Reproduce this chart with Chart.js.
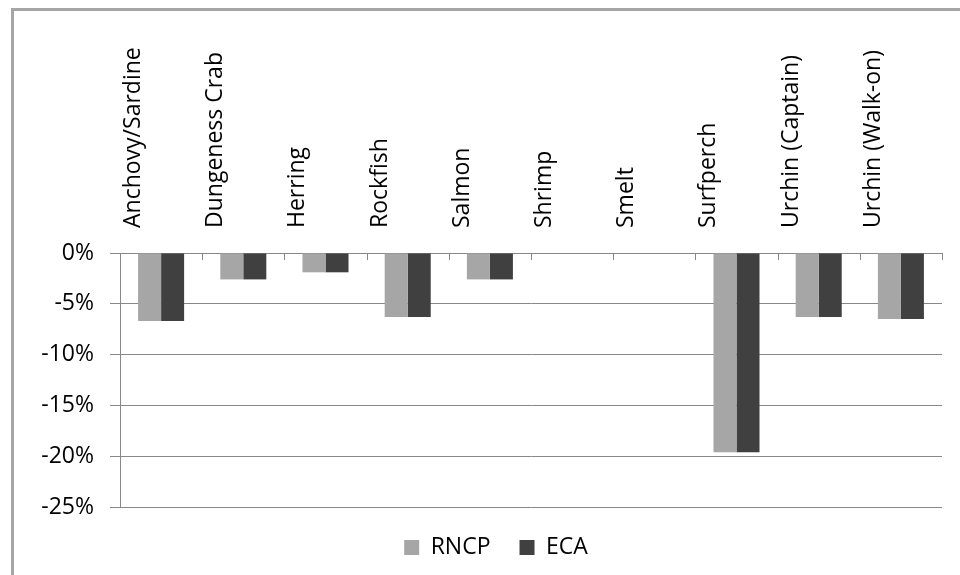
<!DOCTYPE html>
<html>
<head>
<meta charset="utf-8">
<script src="https://cdn.jsdelivr.net/npm/chart.js@4"></script>
<style>
  html, body { margin: 0; padding: 0; background: #fff; }
  #wrap { position: relative; width: 960px; height: 575px; overflow: hidden; }
  #frame {
    position: absolute; left: 11px; top: 8px; width: 1000px; height: 700px;
    border-left: 3px solid #a6a6a6; border-top: 3px solid #a6a6a6;
  }
  canvas { position: absolute; left: 0; top: 0; }
</style>
</head>
<body>
<div id="wrap">
  <div id="frame"></div>
  <canvas id="chart" width="960" height="575"></canvas>
</div>
<script>
const categories = [
  'Anchovy/Sardine', 'Dungeness Crab', 'Herring', 'Rockfish', 'Salmon',
  'Shrimp', 'Smelt', 'Surfperch', 'Urchin (Captain)', 'Urchin (Walk-on)',
];
const rncpValues = [-6.7, -2.6, -1.9, -6.3, -2.6, 0, 0, -19.6, -6.3, -6.5];
const ecaValues = [-6.7, -2.6, -1.9, -6.3, -2.6, 0, 0, -19.6, -6.3, -6.5];
const yTicks = [0, -5, -10, -15, -20, -25];

const FONT = 'Open Sans';
const FONT_SIZE = 23;
const gridColor = '#888888';

// small tick marks under the top axis, between categories
const innerTicks = {
  id: 'innerTicks',
  afterLayout(chart) {
    // legend sits a bit right of the page centre
    chart.legend.left += 25;
    chart.legend.right += 25;
  },
  afterDatasetsDraw(chart) {
    const x = chart.scales.x;
    const top = chart.chartArea.top;
    const ctx = chart.ctx;
    ctx.save();
    ctx.strokeStyle = gridColor;
    ctx.lineWidth = 1;
    for (let i = 0; i <= categories.length; i++) {
      const px = Math.round(x.getPixelForValue(i - 0.5)) + 0.5;
      ctx.beginPath();
      ctx.moveTo(px, top);
      ctx.lineTo(px, top + 7);
      ctx.stroke();
    }
    ctx.restore();
  },
};

new Chart(document.getElementById('chart'), {
  type: 'bar',
  data: {
    labels: categories,
    datasets: [
      { label: 'RNCP', data: rncpValues, backgroundColor: '#a6a6a6' },
      { label: 'ECA', data: ecaValues, backgroundColor: '#404040' },
    ],
  },
  options: {
    responsive: false,
    animation: false,
    layout: { padding: { left: 0, right: 18, top: 20, bottom: 6 } },
    datasets: {
      bar: { categoryPercentage: 0.56, barPercentage: 1 },
    },
    plugins: {
      legend: {
        position: 'bottom',
        labels: {
          font: { family: FONT, size: FONT_SIZE },
          color: '#000',
          boxWidth: 15,
          boxHeight: 15,
          padding: 29,
        },
      },
      tooltip: { enabled: false },
    },
    scales: {
      x: {
        position: 'top',
        grid: { display: false },
        border: { color: gridColor, width: 1 },
        ticks: {
          font: { family: FONT, size: FONT_SIZE },
          color: '#000',
          maxRotation: 90,
          minRotation: 90,
          padding: 17,
          autoSkip: false,
        },
        afterFit: (scale) => { scale.height = 233; },
      },
      y: {
        min: -25,
        max: 0,
        afterBuildTicks: (scale) => {
          scale.ticks = yTicks.map((v) => ({ value: v }));
        },
        grid: { color: gridColor, tickLength: 10, tickColor: gridColor },
        border: { color: gridColor, width: 1 },
        ticks: {
          font: { family: FONT, size: FONT_SIZE },
          color: '#000',
          padding: 16,
          callback: (v) => v + '%',
        },
        afterFit: (scale) => { scale.width = 120; },
      },
    },
  },
  plugins: [innerTicks],
});
</script>
</body>
</html>
